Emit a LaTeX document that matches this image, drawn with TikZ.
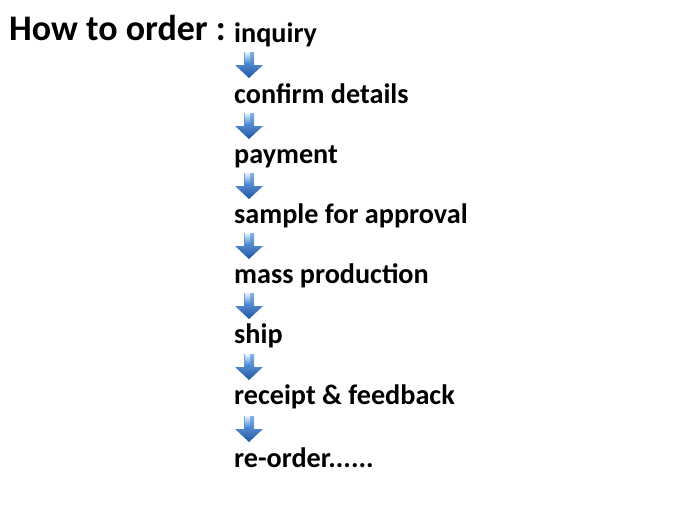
\documentclass[tikz,border=0pt]{standalone}
\usepackage{fontspec}
\setmainfont{Carlito}
\usepackage{tikz}
\usetikzlibrary{positioning,calc}
\definecolor{arrowtop}{HTML}{7FB2EA}
\definecolor{arrowmid}{HTML}{3A82D5}
\definecolor{arrowdark}{HTML}{1C56A6}

\begin{document}
\begin{tikzpicture}[
 x=1pt,y=-1pt,
 title/.style={anchor=base west,inner sep=0pt,font=\fontsize{36}{40}\selectfont\bfseries},
 item/.style={anchor=base west,inner sep=0pt,font=\fontsize{28.2}{34}\selectfont\bfseries},
 flowarr/.style={inner sep=0pt,outer sep=0pt,minimum width=28pt,minimum height=26pt,
  path picture={
   \shade[top color=arrowtop,middle color=arrowmid,bottom color=arrowdark]
    ([xshift=-5pt]path picture bounding box.north) --
    ([xshift=5pt]path picture bounding box.north) --
    ([xshift=5pt,yshift=13pt]path picture bounding box.south) --
    ([yshift=13pt]path picture bounding box.south east) --
    (path picture bounding box.south) --
    ([yshift=13pt]path picture bounding box.south west) --
    ([xshift=-5pt,yshift=13pt]path picture bounding box.south) -- cycle;
   % highlight on the shaft
   \shade[top color=white,bottom color=arrowmid,opacity=0.85]
    ([xshift=-4pt]path picture bounding box.north) rectangle
    ([xshift=1pt,yshift=14pt]path picture bounding box.south);
  }}
]
\useasboundingbox (0,0) rectangle (700,520);
\node[title] (howto) at (9,40) {How to order :};
\node[item] (inquiry) at (234,42) {inquiry};
\node[flowarr,below right=10pt and 1pt of inquiry.base west] (a1) {};
\node[item,below right=25pt and -1pt of a1.south west,anchor=base west] (confirm) {confirm details};
\node[flowarr,below right=10pt and 1pt of confirm.base west] (a2) {};
\node[item,below right=24pt and -1pt of a2.south west,anchor=base west] (payment) {payment};
\node[flowarr,below right=10pt and 1pt of payment.base west] (a3) {};
\node[item,below right=24pt and -1pt of a3.south west,anchor=base west] (sample) {sample for approval};
\node[flowarr,below right=10pt and 1pt of sample.base west] (a4) {};
\node[item,below right=24pt and -1pt of a4.south west,anchor=base west] (mass) {mass production};
\node[flowarr,below right=10pt and 1pt of mass.base west] (a5) {};
\node[item,below right=24pt and -1pt of a5.south west,anchor=base west] (ship) {ship};
\node[flowarr,below right=11pt and 1pt of ship.base west] (a6) {};
\node[item,below right=24pt and -1pt of a6.south west,anchor=base west] (receipt) {receipt \& feedback};
\node[flowarr,below right=12pt and 1pt of receipt.base west] (a7) {};
\node[item,below right=25pt and -1pt of a7.south west,anchor=base west] (reorder) {re-order......};
\end{tikzpicture}
\end{document}
